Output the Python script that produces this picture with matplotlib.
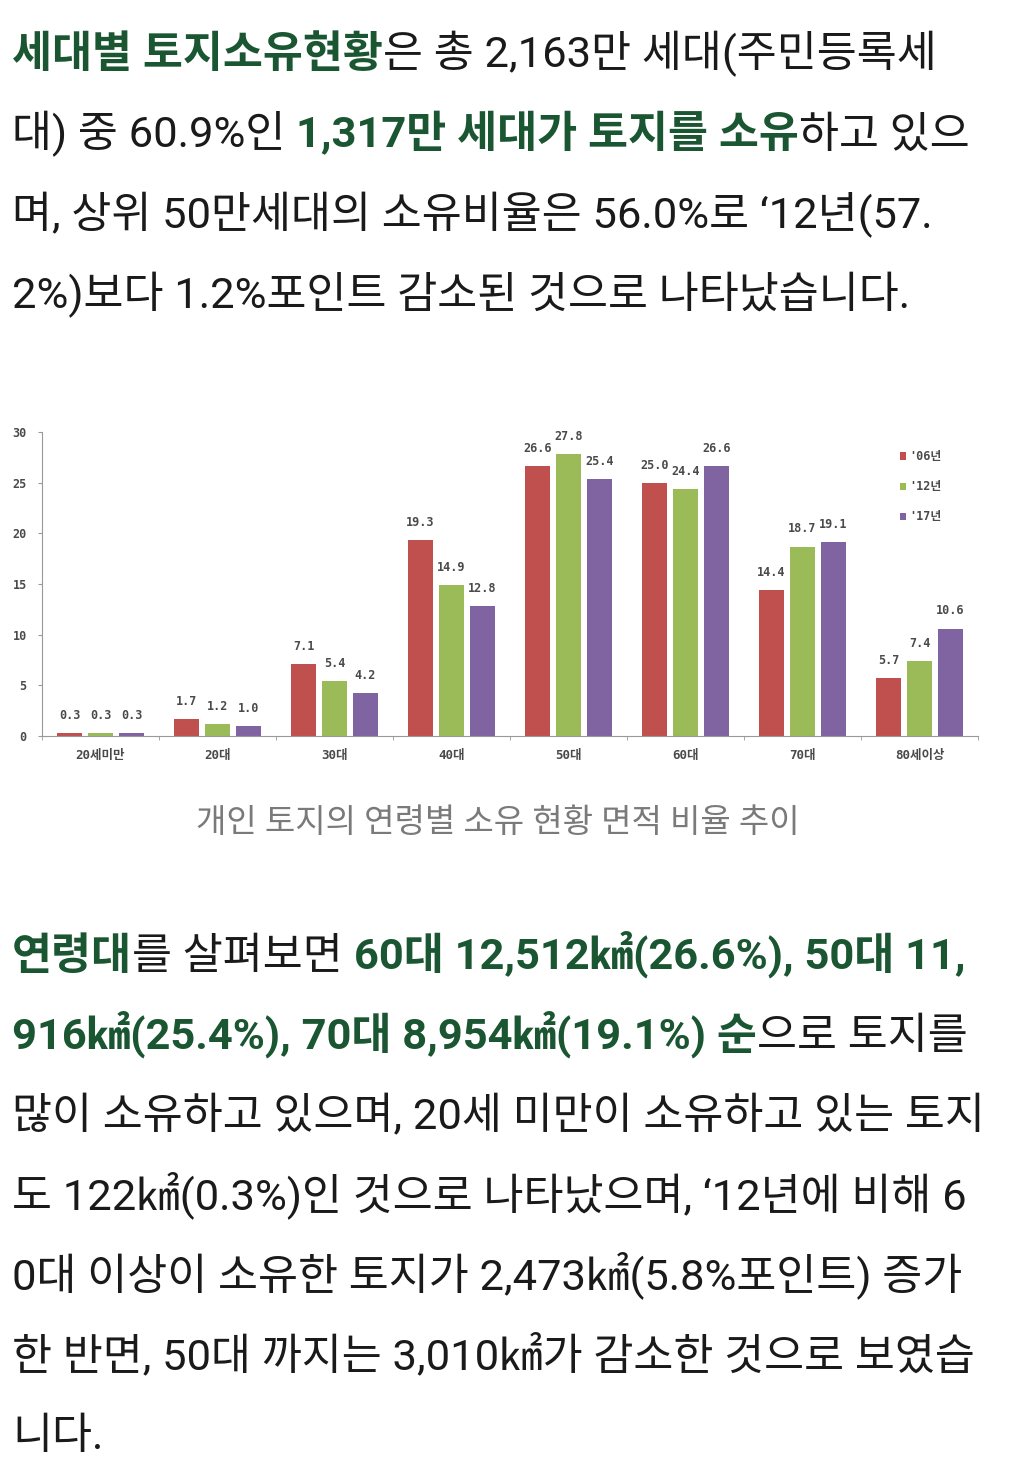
import numpy as np
import matplotlib
matplotlib.use("Agg")
import matplotlib.pyplot as plt

# -- Donnees du graphique
age_groups = ["20세미만", "20대", "30대", "40대", "50대", "60대", "70대", "80세이상"]
years = ["'06년", "'12년", "'17년"]
share_06 = [0.3, 1.7, 7.1, 19.3, 26.6, 25.0, 14.4, 5.7]
share_12 = [0.3, 1.2, 5.4, 14.9, 27.8, 24.4, 18.7, 7.4]
share_17 = [0.3, 1.0, 4.2, 12.8, 25.4, 26.6, 19.1, 10.6]
y_ticks = [0, 5, 10, 15, 20, 25, 30]

caption = "개인 토지의 연령별 소유 현황 면적 비율 추이"

# -- Texte de l'article, ligne par ligne (texte, en vert gras ?)
para_1 = [
    [("세대별 토지소유현황", True), ("은 총 2,163만 세대(주민등록세", False)],
    [("대) 중 60.9%인 ", False), ("1,317만 세대가 토지를 소유", True), ("하고 있으", False)],
    [("며, 상위 50만세대의 소유비율은 56.0%로 \u201812년(57.", False)],
    [("2%)보다 1.2%포인트 감소된 것으로 나타났습니다.", False)],
]
para_2 = [
    [("연령대", True), ("를 살펴보면 ", False), ("60대 12,512㎢(26.6%), 50대 11,", True)],
    [("916㎢(25.4%), 70대 8,954㎢(19.1%) 순", True), ("으로 토지를", False)],
    [("많이 소유하고 있으며, 20세 미만이 소유하고 있는 토지", False)],
    [("도 122㎢(0.3%)인 것으로 나타났으며, \u201812년에 비해 6", False)],
    [("0대 이상이 소유한 토지가 2,473㎢(5.8%포인트) 증가", False)],
    [("한 반면, 50대 까지는 3,010㎢가 감소한 것으로 보였습", False)],
    [("니다.", False)],
]

# -- Styles
W, H = 1026, 1478
TXT_FAMILY = ["Roboto", "Noto Sans CJK KR"]
CHART_FAMILY = ["DejaVu Sans Mono", "Noto Sans CJK KR"]
GREEN = "#1b5632"
BLACK = "#1a1a1a"
CHART_TXT = "#4a4a4a"
BAR_COLORS = ["#c0504d", "#9bbb59", "#8064a2"]
FS = 31.3
CFS = 8.5

fig = plt.figure(figsize=(W / 100, H / 100), dpi=100)
fig.patch.set_facecolor("white")
renderer = fig.canvas.get_renderer()


def advance(s, bold):
    # largeur d'avance d'un morceau (espaces compris) via deux marqueurs
    kw = dict(fontsize=FS, family=TXT_FAMILY, fontweight="bold" if bold else "normal")
    t1 = fig.text(0, 0, "|" + s + "|", **kw)
    t2 = fig.text(0, 0, "||", **kw)
    w = t1.get_window_extent(renderer).width - t2.get_window_extent(renderer).width
    t1.remove()
    t2.remove()
    return w


def draw_lines(lines, x0, baseline0, step):
    for i, runs in enumerate(lines):
        x = x0
        y = 1 - (baseline0 + i * step) / H
        for s, bold in runs:
            fig.text(x / W, y, s, fontsize=FS, family=TXT_FAMILY,
                     fontweight="bold" if bold else "normal",
                     color=GREEN if bold else BLACK, va="baseline", ha="left")
            x += advance(s, bold)


draw_lines(para_1, 12, 67, 80.5)
draw_lines(para_2, 12, 969, 80)

# -- Graphique
ax = fig.add_axes([42 / W, 742 / H, 936 / W, 304 / H])
x = np.arange(len(age_groups))
bw = 0.22
off = 0.265
for k, (vals, col, lab) in enumerate(zip([share_06, share_12, share_17], BAR_COLORS, years)):
    pos = x + (k - 1) * off
    ax.bar(pos, vals, width=bw, color=col, label=lab, zorder=2)
    for p, v in zip(pos, vals):
        ax.annotate(f"{v:.1f}", (p, v), xytext=(0, 8), textcoords="offset points",
                    ha="center", va="bottom", fontsize=CFS, color=CHART_TXT,
                    family=CHART_FAMILY, fontweight="bold")

ax.set_xlim(-0.5, len(age_groups) - 0.5)
ax.set_ylim(0, 30)
ax.set_yticks(y_ticks)
ax.set_yticklabels([str(t) for t in y_ticks], fontsize=CFS, color=CHART_TXT,
                   family=CHART_FAMILY, fontweight="bold")
ax.set_xticks(x)
ax.set_xticklabels(age_groups, fontsize=9, color=CHART_TXT, family=CHART_FAMILY,
                   fontweight="bold")
ax.set_xticks(np.arange(len(age_groups) + 1) - 0.5, minor=True)
ax.tick_params(axis="x", which="major", length=0, pad=9)
ax.tick_params(axis="x", which="minor", length=3, color="#999999")
ax.tick_params(axis="y", length=3, color="#999999", pad=8)
for side in ["top", "right"]:
    ax.spines[side].set_visible(False)
for side in ["left", "bottom"]:
    ax.spines[side].set_color("#999999")
    ax.spines[side].set_linewidth(0.8)

leg = ax.legend(loc="upper left", bbox_to_anchor=(0.905, 0.975), frameon=False,
                handlelength=0.55, handleheight=0.55, handletextpad=0.3,
                labelspacing=1.45, prop={"family": CHART_FAMILY, "size": CFS,
                                         "weight": "bold"})
for t in leg.get_texts():
    t.set_color(CHART_TXT)

fig.text(498 / W, 1 - 823 / H, caption, fontsize=23.8, family=TXT_FAMILY,
         color="#7a7a7a", ha="center", va="center")

fig.savefig("out.png", dpi=100, facecolor="white")
